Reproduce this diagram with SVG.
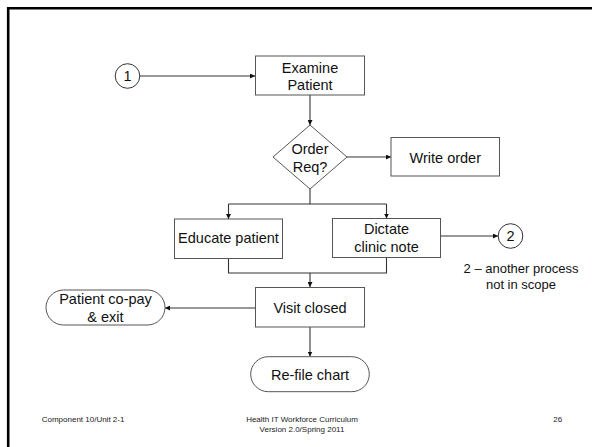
<svg xmlns="http://www.w3.org/2000/svg" width="592" height="447" viewBox="0 0 592 447">
<style>
.box{fill:#fff;stroke:#555;stroke-width:1}
.t{font-family:"Liberation Sans",Arial,sans-serif;font-size:14.5px;fill:#111;text-anchor:middle}
.s{font-family:"Liberation Sans",Arial,sans-serif;font-size:13px;fill:#111;text-anchor:middle}
.f{font-family:"Liberation Sans",Arial,sans-serif;font-size:8px;fill:#222}
.c{fill:none;stroke:#333;stroke-width:1.1}
</style>
<defs>
<marker id="ah" viewBox="0 0 8 8" refX="8" refY="4" markerWidth="5" markerHeight="5" orient="auto" markerUnits="userSpaceOnUse">
<path d="M0,0 L8,4 L0,8 z" fill="#111"/>
</marker>
</defs>
<rect width="592" height="447" fill="#fff"/>
<path d="M8.2,447 L8.2,8.2 L592,8.2" fill="none" stroke="#000" stroke-width="2.6"/>

<g id="connectors">
<line class="c" x1="140" y1="76" x2="255" y2="76" marker-end="url(#ah)"/>
<line class="c" x1="310" y1="95" x2="310" y2="125" marker-end="url(#ah)"/>
<line class="c" x1="347" y1="157" x2="391" y2="157" marker-end="url(#ah)"/>
<line class="c" x1="310" y1="189" x2="310" y2="204" stroke-width="1.6"/>
<line class="c" x1="228.5" y1="204" x2="386.5" y2="204"/>
<line class="c" x1="228.5" y1="204" x2="228.5" y2="219" marker-end="url(#ah)"/>
<line class="c" x1="386.5" y1="204" x2="386.5" y2="218.5" marker-end="url(#ah)"/>
<line class="c" x1="441" y1="236" x2="498" y2="236" marker-end="url(#ah)"/>
<polyline class="c" points="228.5,258.5 228.5,273 386.5,273 386.5,257.5"/>
<line class="c" x1="310" y1="273" x2="310" y2="287" stroke-width="1.6" marker-end="url(#ah)"/>
<line class="c" x1="255.5" y1="308" x2="165" y2="308" marker-end="url(#ah)"/>
<line class="c" x1="310" y1="327" x2="310" y2="356.5" marker-end="url(#ah)"/>
</g>

<g id="start1">
<circle cx="127.5" cy="76" r="12.3" fill="#fff" stroke="#333" stroke-width="1"/>
<text class="t" x="127.5" y="81.2">1</text>
</g>
<g id="examine">
<rect class="box" x="255.5" y="56" width="109" height="39"/>
<text class="t" x="310" y="73.3">Examine</text>
<text class="t" x="310" y="90">Patient</text>
</g>
<g id="order-req">
<polygon class="box" points="310,125 347,157 310,189 273,157"/>
<text class="t" x="310" y="154.3">Order</text>
<text class="t" x="310" y="171.7">Req?</text>
</g>
<g id="write-order">
<rect class="box" x="391" y="137.5" width="108.5" height="38.5"/>
<text class="t" x="445.3" y="162.5">Write order</text>
</g>
<g id="educate">
<rect class="box" x="174.5" y="219" width="108" height="39.5"/>
<text class="t" x="228.5" y="243.3">Educate patient</text>
</g>
<g id="dictate">
<rect class="box" x="332.5" y="218.5" width="108" height="39"/>
<text class="t" x="386.5" y="234">Dictate</text>
<text class="t" x="386.5" y="252">clinic note</text>
</g>
<g id="end2">
<circle cx="510.5" cy="236" r="12.3" fill="#fff" stroke="#333" stroke-width="1"/>
<text class="t" x="510.5" y="241.2">2</text>
</g>
<g id="note2">
<text class="s" x="521" y="273.3">2 – another process</text>
<text class="s" x="521" y="289">not in scope</text>
</g>
<g id="visit-closed">
<rect class="box" x="255.5" y="287.5" width="109" height="39.5"/>
<text class="t" x="310" y="313.3">Visit closed</text>
</g>
<g id="copay">
<rect class="box" x="46" y="290" width="119" height="35" rx="17.5" ry="17.5"/>
<text class="t" x="105.5" y="304.3">Patient co-pay</text>
<text class="t" x="105.5" y="321.7">&amp; exit</text>
</g>
<g id="refile">
<rect class="box" x="250.7" y="356.7" width="118.6" height="35" rx="17.5" ry="17.5"/>
<text class="t" x="310" y="380">Re-file chart</text>
</g>

<g id="footer">
<text class="f" x="41.7" y="421.7">Component 10/Unit 2-1</text>
<text class="f" x="302" y="421.7" text-anchor="middle">Health IT Workforce Curriculum</text>
<text class="f" x="302" y="432" text-anchor="middle">Version 2.0/Spring 2011</text>
<text class="f" x="553.3" y="421.7">26</text>
</g>
</svg>
